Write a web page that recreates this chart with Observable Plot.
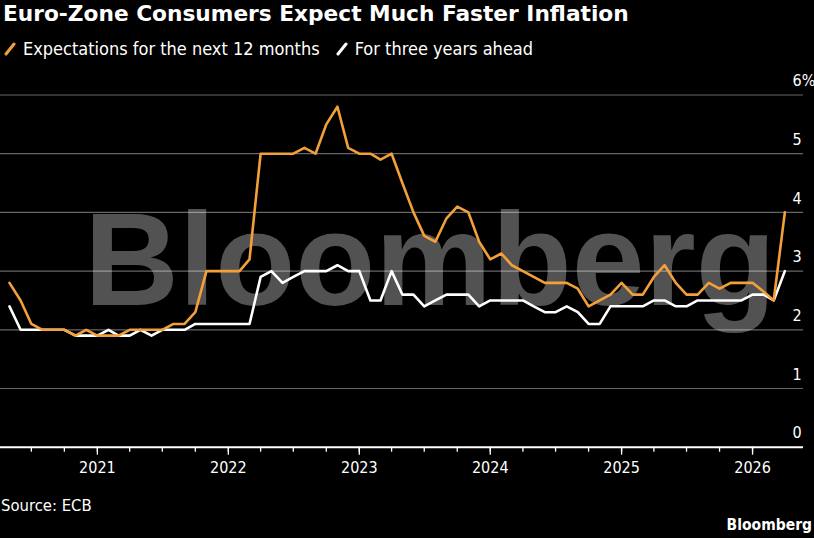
<!DOCTYPE html>
<html>
<head>
<meta charset="utf-8">
<script src="https://cdn.jsdelivr.net/npm/d3@7"></script>
<script src="https://cdn.jsdelivr.net/npm/@observablehq/plot@0.6"></script>
<style>
  html, body { margin: 0; padding: 0; background: #000; }
  body { width: 814px; height: 538px; position: relative; overflow: hidden;
         font-family: "DejaVu Sans Condensed", "DejaVu Sans", sans-serif; font-stretch: condensed; color: #fff; }
  #title { position: absolute; left: 3px; top: 1px; font-size: 21.7px; font-weight: bold; white-space: nowrap;
           font-family: "DejaVu Sans", sans-serif; font-stretch: normal; }
  #legend { position: absolute; left: 4px; top: 38px; font-size: 18px; white-space: nowrap; display: flex; align-items: center; }
  #legend .item { display: inline-flex; align-items: center; margin-right: 16px; }
  #legend svg { margin-right: 7px; }
  #chart { position: absolute; left: 0; top: 60px; }
  #source { position: absolute; left: 1px; top: 496px; font-size: 16.5px; }
  #logo { position: absolute; right: 2px; top: 516px; font-size: 15.5px; font-weight: bold; }
</style>
</head>
<body>
<div id="title"></div>
<div id="legend"></div>
<div id="chart"></div>
<div id="source"></div>
<div id="logo"></div>
<script>
const titleText = "Euro-Zone Consumers Expect Much Faster Inflation";
const sourceText = "Source: ECB";
const logoText = "Bloomberg";
const watermarkText = "Bloomberg";
const seriesNames = ["Expectations for the next 12 months", "For three years ahead"];
const seriesColors = ["#f4a03a", "#ffffff"];
const startMonth = "2020-05-01"; // monthly observations from May 2020
const yTicks = [0, 1, 2, 3, 4, 5, 6];

// 12 months ahead expectations (median, %)
const next12 = [
  2.8, 2.5, 2.1, 2.0, 2.0, 2.0, 1.9, 2.0,
  1.9, 1.9, 1.9, 2.0, 2.0, 2.0, 2.0, 2.1, 2.1, 2.3, 3.0, 3.0,
  3.0, 3.0, 3.2, 5.0, 5.0, 5.0, 5.0, 5.1, 5.0, 5.5, 5.8, 5.1,
  5.0, 5.0, 4.9, 5.0, 4.5, 4.0, 3.6, 3.5, 3.9, 4.1, 4.0, 3.5,
  3.2, 3.3, 3.1, 3.0, 2.9, 2.8, 2.8, 2.8, 2.7, 2.4, 2.5, 2.6,
  2.8, 2.6, 2.6, 2.9, 3.1, 2.8, 2.6, 2.6, 2.8, 2.7, 2.8, 2.8,
  2.8, 2.65, 2.5, 4.0
];
// three years ahead expectations (median, %)
const threeYears = [
  2.4, 2.0, 2.0, 2.0, 2.0, 2.0, 1.9, 1.9,
  1.9, 2.0, 1.9, 1.9, 2.0, 1.9, 2.0, 2.0, 2.0, 2.1, 2.1, 2.1,
  2.1, 2.1, 2.1, 2.9, 3.0, 2.8, 2.9, 3.0, 3.0, 3.0, 3.1, 3.0,
  3.0, 2.5, 2.5, 3.0, 2.6, 2.6, 2.4, 2.5, 2.6, 2.6, 2.6, 2.4,
  2.5, 2.5, 2.5, 2.5, 2.4, 2.3, 2.3, 2.4, 2.3, 2.1, 2.1, 2.4,
  2.4, 2.4, 2.4, 2.5, 2.5, 2.4, 2.4, 2.5, 2.5, 2.5, 2.5, 2.5,
  2.6, 2.6, 2.5, 3.0
];

const start = new Date(startMonth);
const dates = next12.map((_, i) => d3.utcMonth.offset(start, i));
const data12 = next12.map((v, i) => ({date: dates[i], value: v}));
const data3 = threeYears.map((v, i) => ({date: dates[i], value: v}));

document.getElementById("title").textContent = titleText;
document.getElementById("source").textContent = sourceText;
document.getElementById("logo").textContent = logoText;
const legend = document.getElementById("legend");
seriesNames.forEach((name, i) => {
  const item = document.createElement("span");
  item.className = "item";
  item.innerHTML = `<svg width="12" height="14"><line x1="2" y1="12" x2="10" y2="2" stroke="${seriesColors[i]}" stroke-width="3" stroke-linecap="round"/></svg>`;
  item.appendChild(document.createTextNode(name));
  legend.appendChild(item);
});

const quarterTicks = d3.utcMonth.every(3).range(new Date("2020-07-01"), new Date("2026-02-01"));
const yearTicks = d3.utcYear.range(new Date("2021-01-01"), new Date("2026-02-01"));
const fontFam = '"DejaVu Sans Condensed", "DejaVu Sans", sans-serif';

const chart = Plot.plot({
  width: 814,
  height: 440,
  marginLeft: 0,
  marginRight: 11,
  marginTop: 34.5,
  marginBottom: 53.3,
  style: {background: "transparent", color: "#fff", fontFamily: fontFam, fontSize: "15px", fontStretch: "condensed"},
  x: {type: "utc", domain: [new Date("2020-04-06"), new Date("2026-05-23")]},
  y: {domain: [0, 6]},
  marks: [
    Plot.text([watermarkText], {frameAnchor: "middle", lineAnchor: "bottom", dx: 28, dy: 33.4,
      fontSize: 131, fontWeight: "bold", fill: "#525252", fontFamily: "Liberation Sans, Arial, sans-serif",
      style: {letterSpacing: "-6px"}}),
    Plot.ruleY(yTicks.filter(d => d > 0), {stroke: "#fff", strokeOpacity: 0.4, strokeWidth: 1.2}),
    Plot.axisY({anchor: "right", ticks: yTicks, label: null, tickSize: 0, tickPadding: 0, dx: -11, dy: -14,
      tickFormat: d => d === 6 ? "6%" : String(d), fontSize: 16, fill: "#fff"}),
    Plot.axisX({ticks: quarterTicks, label: null, tickSize: 5, tickFormat: () => "", stroke: "#fff", strokeWidth: 1.3}),
    Plot.axisX({ticks: yearTicks, label: null, tickSize: 8, tickPadding: 6, tickFormat: d3.utcFormat("%Y"),
      fontSize: 16, stroke: "#fff", strokeWidth: 1.3, fill: "#fff"}),
    Plot.ruleY([0], {stroke: "#fff", strokeWidth: 2}),
    Plot.line(data3, {x: "date", y: "value", stroke: seriesColors[1], strokeWidth: 2.6}),
    Plot.line(data12, {x: "date", y: "value", stroke: seriesColors[0], strokeWidth: 2.6})
  ]
});
document.getElementById("chart").appendChild(chart);
</script>
</body>
</html>
